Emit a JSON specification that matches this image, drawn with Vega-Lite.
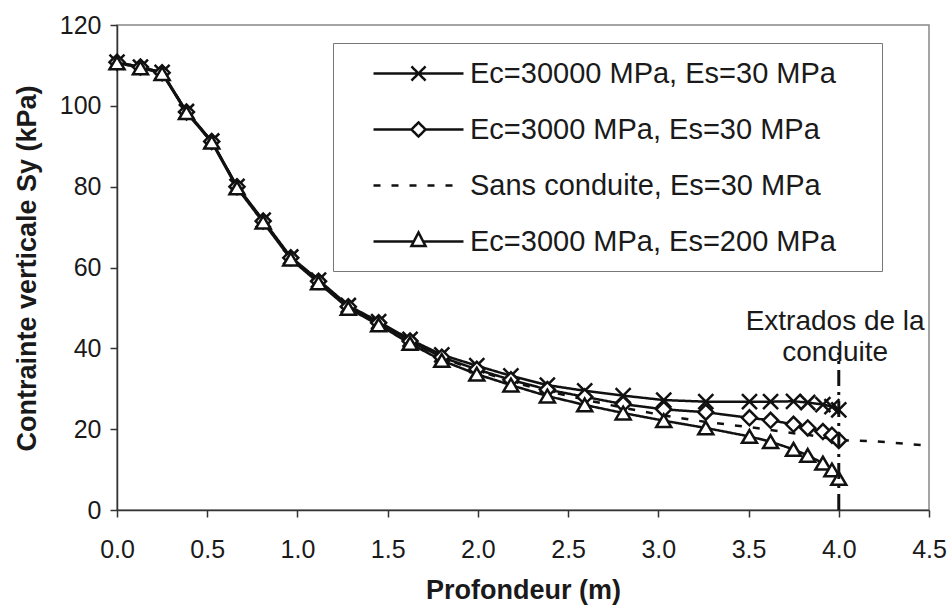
{
  "$schema": "https://vega.github.io/schema/vega-lite/v6.json",
  "width": 812,
  "height": 485,
  "autosize": "none",
  "padding": {"left": 117, "top": 25, "right": 19, "bottom": 96},
  "background": "white",
  "config": {
    "font": "Liberation Sans",
    "view": {"stroke": "#888", "strokeWidth": 1.5},
    "axis": {
      "grid": false,
      "domainColor": "#333",
      "domainWidth": 1.5,
      "tickColor": "#333",
      "tickWidth": 1.5,
      "tickSize": 7,
      "labelFont": "Liberation Sans",
      "labelFontSize": 25,
      "labelColor": "#1a1a1a",
      "labelFlush": false,
      "titleFont": "Liberation Sans",
      "titleFontSize": 27,
      "titleFontWeight": "bold",
      "titleColor": "#1a1a1a"
    }
  },
  "datasets": {
    "courbes": [
      {"serie": "Ec=30000 MPa, Es=30 MPa", "prof": 0, "sy": 110.8},
      {"serie": "Ec=30000 MPa, Es=30 MPa", "prof": 0.13, "sy": 109.6},
      {"serie": "Ec=30000 MPa, Es=30 MPa", "prof": 0.25, "sy": 108.3},
      {"serie": "Ec=30000 MPa, Es=30 MPa", "prof": 0.385, "sy": 98.6},
      {"serie": "Ec=30000 MPa, Es=30 MPa", "prof": 0.525, "sy": 91.3},
      {"serie": "Ec=30000 MPa, Es=30 MPa", "prof": 0.665, "sy": 80.1},
      {"serie": "Ec=30000 MPa, Es=30 MPa", "prof": 0.81, "sy": 71.7},
      {"serie": "Ec=30000 MPa, Es=30 MPa", "prof": 0.963, "sy": 62.6},
      {"serie": "Ec=30000 MPa, Es=30 MPa", "prof": 1.117, "sy": 56.9},
      {"serie": "Ec=30000 MPa, Es=30 MPa", "prof": 1.282, "sy": 50.6},
      {"serie": "Ec=30000 MPa, Es=30 MPa", "prof": 1.45, "sy": 46.6},
      {"serie": "Ec=30000 MPa, Es=30 MPa", "prof": 1.624, "sy": 42.2},
      {"serie": "Ec=30000 MPa, Es=30 MPa", "prof": 1.8, "sy": 38.4},
      {"serie": "Ec=30000 MPa, Es=30 MPa", "prof": 1.994, "sy": 35.7},
      {"serie": "Ec=30000 MPa, Es=30 MPa", "prof": 2.183, "sy": 33.2},
      {"serie": "Ec=30000 MPa, Es=30 MPa", "prof": 2.385, "sy": 30.9},
      {"serie": "Ec=30000 MPa, Es=30 MPa", "prof": 2.592, "sy": 29.5},
      {"serie": "Ec=30000 MPa, Es=30 MPa", "prof": 2.805, "sy": 28.3},
      {"serie": "Ec=30000 MPa, Es=30 MPa", "prof": 3.03, "sy": 27.2},
      {"serie": "Ec=30000 MPa, Es=30 MPa", "prof": 3.263, "sy": 26.8},
      {"serie": "Ec=30000 MPa, Es=30 MPa", "prof": 3.505, "sy": 26.8},
      {"serie": "Ec=30000 MPa, Es=30 MPa", "prof": 3.622, "sy": 26.8},
      {"serie": "Ec=30000 MPa, Es=30 MPa", "prof": 3.749, "sy": 26.9},
      {"serie": "Ec=30000 MPa, Es=30 MPa", "prof": 3.828, "sy": 26.6},
      {"serie": "Ec=30000 MPa, Es=30 MPa", "prof": 3.912, "sy": 26.1},
      {"serie": "Ec=30000 MPa, Es=30 MPa", "prof": 3.962, "sy": 25.6},
      {"serie": "Ec=30000 MPa, Es=30 MPa", "prof": 4.0, "sy": 24.8},

      {"serie": "Ec=3000 MPa, Es=30 MPa", "prof": 0, "sy": 110.8},
      {"serie": "Ec=3000 MPa, Es=30 MPa", "prof": 0.13, "sy": 109.6},
      {"serie": "Ec=3000 MPa, Es=30 MPa", "prof": 0.25, "sy": 108.2},
      {"serie": "Ec=3000 MPa, Es=30 MPa", "prof": 0.385, "sy": 98.5},
      {"serie": "Ec=3000 MPa, Es=30 MPa", "prof": 0.525, "sy": 91.2},
      {"serie": "Ec=3000 MPa, Es=30 MPa", "prof": 0.665, "sy": 80.0},
      {"serie": "Ec=3000 MPa, Es=30 MPa", "prof": 0.81, "sy": 71.5},
      {"serie": "Ec=3000 MPa, Es=30 MPa", "prof": 0.963, "sy": 62.4},
      {"serie": "Ec=3000 MPa, Es=30 MPa", "prof": 1.117, "sy": 56.6},
      {"serie": "Ec=3000 MPa, Es=30 MPa", "prof": 1.282, "sy": 50.3},
      {"serie": "Ec=3000 MPa, Es=30 MPa", "prof": 1.45, "sy": 46.3},
      {"serie": "Ec=3000 MPa, Es=30 MPa", "prof": 1.624, "sy": 41.8},
      {"serie": "Ec=3000 MPa, Es=30 MPa", "prof": 1.8, "sy": 37.8},
      {"serie": "Ec=3000 MPa, Es=30 MPa", "prof": 1.994, "sy": 34.8},
      {"serie": "Ec=3000 MPa, Es=30 MPa", "prof": 2.183, "sy": 32.2},
      {"serie": "Ec=3000 MPa, Es=30 MPa", "prof": 2.385, "sy": 29.8},
      {"serie": "Ec=3000 MPa, Es=30 MPa", "prof": 2.592, "sy": 28.0},
      {"serie": "Ec=3000 MPa, Es=30 MPa", "prof": 2.805, "sy": 26.2},
      {"serie": "Ec=3000 MPa, Es=30 MPa", "prof": 3.03, "sy": 24.9},
      {"serie": "Ec=3000 MPa, Es=30 MPa", "prof": 3.263, "sy": 24.2},
      {"serie": "Ec=3000 MPa, Es=30 MPa", "prof": 3.505, "sy": 22.8},
      {"serie": "Ec=3000 MPa, Es=30 MPa", "prof": 3.622, "sy": 22.2},
      {"serie": "Ec=3000 MPa, Es=30 MPa", "prof": 3.749, "sy": 21.2},
      {"serie": "Ec=3000 MPa, Es=30 MPa", "prof": 3.828, "sy": 20.3},
      {"serie": "Ec=3000 MPa, Es=30 MPa", "prof": 3.912, "sy": 19.4},
      {"serie": "Ec=3000 MPa, Es=30 MPa", "prof": 3.962, "sy": 18.5},
      {"serie": "Ec=3000 MPa, Es=30 MPa", "prof": 4.0, "sy": 17.2},

      {"serie": "Sans conduite, Es=30 MPa", "prof": 0, "sy": 110.8},
      {"serie": "Sans conduite, Es=30 MPa", "prof": 0.13, "sy": 109.6},
      {"serie": "Sans conduite, Es=30 MPa", "prof": 0.25, "sy": 108.2},
      {"serie": "Sans conduite, Es=30 MPa", "prof": 0.385, "sy": 98.5},
      {"serie": "Sans conduite, Es=30 MPa", "prof": 0.525, "sy": 91.2},
      {"serie": "Sans conduite, Es=30 MPa", "prof": 0.665, "sy": 80.0},
      {"serie": "Sans conduite, Es=30 MPa", "prof": 0.81, "sy": 71.5},
      {"serie": "Sans conduite, Es=30 MPa", "prof": 0.963, "sy": 62.4},
      {"serie": "Sans conduite, Es=30 MPa", "prof": 1.117, "sy": 56.6},
      {"serie": "Sans conduite, Es=30 MPa", "prof": 1.282, "sy": 50.3},
      {"serie": "Sans conduite, Es=30 MPa", "prof": 1.45, "sy": 46.3},
      {"serie": "Sans conduite, Es=30 MPa", "prof": 1.624, "sy": 41.8},
      {"serie": "Sans conduite, Es=30 MPa", "prof": 1.8, "sy": 37.6},
      {"serie": "Sans conduite, Es=30 MPa", "prof": 1.994, "sy": 34.6},
      {"serie": "Sans conduite, Es=30 MPa", "prof": 2.183, "sy": 31.8},
      {"serie": "Sans conduite, Es=30 MPa", "prof": 2.385, "sy": 29.4},
      {"serie": "Sans conduite, Es=30 MPa", "prof": 2.592, "sy": 27.3},
      {"serie": "Sans conduite, Es=30 MPa", "prof": 2.805, "sy": 25.3},
      {"serie": "Sans conduite, Es=30 MPa", "prof": 3.03, "sy": 23.4},
      {"serie": "Sans conduite, Es=30 MPa", "prof": 3.263, "sy": 21.8},
      {"serie": "Sans conduite, Es=30 MPa", "prof": 3.505, "sy": 20.5},
      {"serie": "Sans conduite, Es=30 MPa", "prof": 3.622, "sy": 19.8},
      {"serie": "Sans conduite, Es=30 MPa", "prof": 3.749, "sy": 19.0},
      {"serie": "Sans conduite, Es=30 MPa", "prof": 3.828, "sy": 18.6},
      {"serie": "Sans conduite, Es=30 MPa", "prof": 3.912, "sy": 18.0},
      {"serie": "Sans conduite, Es=30 MPa", "prof": 3.962, "sy": 17.6},
      {"serie": "Sans conduite, Es=30 MPa", "prof": 4.0, "sy": 17.3},
      {"serie": "Sans conduite, Es=30 MPa", "prof": 4.2, "sy": 17.0},
      {"serie": "Sans conduite, Es=30 MPa", "prof": 4.5, "sy": 15.9},

      {"serie": "Ec=3000 MPa, Es=200 MPa", "prof": 0, "sy": 110.6},
      {"serie": "Ec=3000 MPa, Es=200 MPa", "prof": 0.13, "sy": 109.4},
      {"serie": "Ec=3000 MPa, Es=200 MPa", "prof": 0.25, "sy": 108.0},
      {"serie": "Ec=3000 MPa, Es=200 MPa", "prof": 0.385, "sy": 98.3},
      {"serie": "Ec=3000 MPa, Es=200 MPa", "prof": 0.525, "sy": 91.0},
      {"serie": "Ec=3000 MPa, Es=200 MPa", "prof": 0.665, "sy": 79.7},
      {"serie": "Ec=3000 MPa, Es=200 MPa", "prof": 0.81, "sy": 71.2},
      {"serie": "Ec=3000 MPa, Es=200 MPa", "prof": 0.963, "sy": 62.1},
      {"serie": "Ec=3000 MPa, Es=200 MPa", "prof": 1.117, "sy": 56.2},
      {"serie": "Ec=3000 MPa, Es=200 MPa", "prof": 1.282, "sy": 49.9},
      {"serie": "Ec=3000 MPa, Es=200 MPa", "prof": 1.45, "sy": 45.8},
      {"serie": "Ec=3000 MPa, Es=200 MPa", "prof": 1.624, "sy": 41.2},
      {"serie": "Ec=3000 MPa, Es=200 MPa", "prof": 1.8, "sy": 37.0},
      {"serie": "Ec=3000 MPa, Es=200 MPa", "prof": 1.994, "sy": 33.6},
      {"serie": "Ec=3000 MPa, Es=200 MPa", "prof": 2.183, "sy": 30.9},
      {"serie": "Ec=3000 MPa, Es=200 MPa", "prof": 2.385, "sy": 28.2},
      {"serie": "Ec=3000 MPa, Es=200 MPa", "prof": 2.592, "sy": 26.0},
      {"serie": "Ec=3000 MPa, Es=200 MPa", "prof": 2.805, "sy": 24.0},
      {"serie": "Ec=3000 MPa, Es=200 MPa", "prof": 3.03, "sy": 22.1},
      {"serie": "Ec=3000 MPa, Es=200 MPa", "prof": 3.263, "sy": 20.3},
      {"serie": "Ec=3000 MPa, Es=200 MPa", "prof": 3.505, "sy": 18.2},
      {"serie": "Ec=3000 MPa, Es=200 MPa", "prof": 3.622, "sy": 16.9},
      {"serie": "Ec=3000 MPa, Es=200 MPa", "prof": 3.749, "sy": 15.0},
      {"serie": "Ec=3000 MPa, Es=200 MPa", "prof": 3.828, "sy": 13.5},
      {"serie": "Ec=3000 MPa, Es=200 MPa", "prof": 3.912, "sy": 11.6},
      {"serie": "Ec=3000 MPa, Es=200 MPa", "prof": 3.962, "sy": 9.9},
      {"serie": "Ec=3000 MPa, Es=200 MPa", "prof": 4.0, "sy": 7.8}
    ],
    "extrados": [
      {"prof": 4.0, "bas": 0, "haut": 39}
    ],
    "note": [
      {"prof": 3.98, "sy": 46.5, "texte": "Extrados de la"},
      {"prof": 3.98, "sy": 38.8, "texte": "conduite"}
    ]
  },
  "layer": [
    {
      "data": {"name": "courbes"},
      "mark": {"type": "line", "color": "#111", "strokeWidth": 2.5},
      "encoding": {
        "x": {
          "field": "prof", "type": "quantitative",
          "scale": {"domain": [0, 4.5], "nice": false, "zero": false},
          "axis": {"title": "Profondeur (m)", "values": [0, 0.5, 1, 1.5, 2, 2.5, 3, 3.5, 4, 4.5], "format": ".1f", "labelPadding": 20, "titleY": 80, "titleBaseline": "middle"}
        },
        "y": {
          "field": "sy", "type": "quantitative",
          "scale": {"domain": [0, 120], "nice": false},
          "axis": {"title": "Contrainte verticale Sy (kPa)", "values": [0, 20, 40, 60, 80, 100, 120], "labelPadding": 9, "titleX": -90, "titleY": 243, "titleAlign": "center", "titleBaseline": "middle", "titleAngle": -90}
        },
        "strokeDash": {
          "field": "serie", "type": "nominal",
          "scale": {
            "domain": ["Ec=30000 MPa, Es=30 MPa", "Ec=3000 MPa, Es=30 MPa", "Sans conduite, Es=30 MPa", "Ec=3000 MPa, Es=200 MPa"],
            "range": [[1, 0], [1, 0], [7, 11], [1, 0]]
          },
          "legend": {
            "title": "M",
            "titleOrient": "right",
            "titleFontSize": 20,
            "titlePadding": 15,
            "titleOpacity": 0,
            "orient": "none",
            "legendX": 216,
            "legendY": 18,
            "padding": 14,
            "rowPadding": 24,
            "strokeColor": "#777",
            "fillColor": "white",
            "symbolSize": 900,
            "symbolStrokeWidth": 2.5,
            "symbolStrokeColor": "#111",
            "symbolOffset": 55,
            "labelOffset": 35,
            "labelFont": "Liberation Sans",
            "labelFontSize": 29,
            "labelColor": "#1a1a1a",
            "labelLimit": 0,
            "encode": {
              "symbols": {
                "update": {
                  "shape": {"signal": "datum.value === 'Ec=30000 MPa, Es=30 MPa' ? 'M-3,0H3M-0.47,-0.47L0.47,0.47M-0.47,0.47L0.47,-0.47' : datum.value === 'Ec=3000 MPa, Es=30 MPa' ? 'M-3,0H-0.47M0.47,0H3M-0.47,0L0,-0.47L0.47,0L0,0.47Z' : datum.value === 'Ec=3000 MPa, Es=200 MPa' ? 'M-3,0H-0.31M0.31,0H3M0,-0.6L0.47,0.3L-0.47,0.3Z' : 'M-3,0H3'"},
                  "fill": {"value": "white"},
                  "stroke": {"value": "#111"},
                  "strokeWidth": {"value": 2.5}
                }
              }
            }
          }
        }
      }
    },
    {
      "data": {"name": "courbes"},
      "transform": [{"filter": "datum.serie !== 'Sans conduite, Es=30 MPa'"}],
      "mark": {"type": "point", "filled": true, "fill": "white", "stroke": "#111", "strokeWidth": 2.5, "size": 225, "opacity": 1},
      "encoding": {
        "x": {"field": "prof", "type": "quantitative"},
        "y": {"field": "sy", "type": "quantitative"},
        "shape": {
          "field": "serie", "type": "nominal",
          "scale": {
            "domain": ["Ec=30000 MPa, Es=30 MPa", "Ec=3000 MPa, Es=30 MPa", "Ec=3000 MPa, Es=200 MPa"],
            "range": ["M-1,-1L1,1M-1,1L1,-1", "M-1,0L0,-1L1,0L0,1Z", "M0,-0.85L1,0.85L-1,0.85Z"]
          },
          "legend": null
        }
      }
    },
    {
      "data": {"name": "extrados"},
      "mark": {"type": "rule", "color": "#111", "strokeWidth": 3, "strokeDash": [16, 6, 3, 6]},
      "encoding": {
        "x": {"field": "prof", "type": "quantitative"},
        "y": {"field": "bas", "type": "quantitative"},
        "y2": {"field": "haut"}
      }
    },
    {
      "data": {"name": "note"},
      "mark": {"type": "text", "font": "Liberation Sans", "fontSize": 28, "align": "center", "baseline": "middle", "color": "#1a1a1a"},
      "encoding": {
        "x": {"field": "prof", "type": "quantitative"},
        "y": {"field": "sy", "type": "quantitative"},
        "text": {"field": "texte"}
      }
    }
  ]
}
